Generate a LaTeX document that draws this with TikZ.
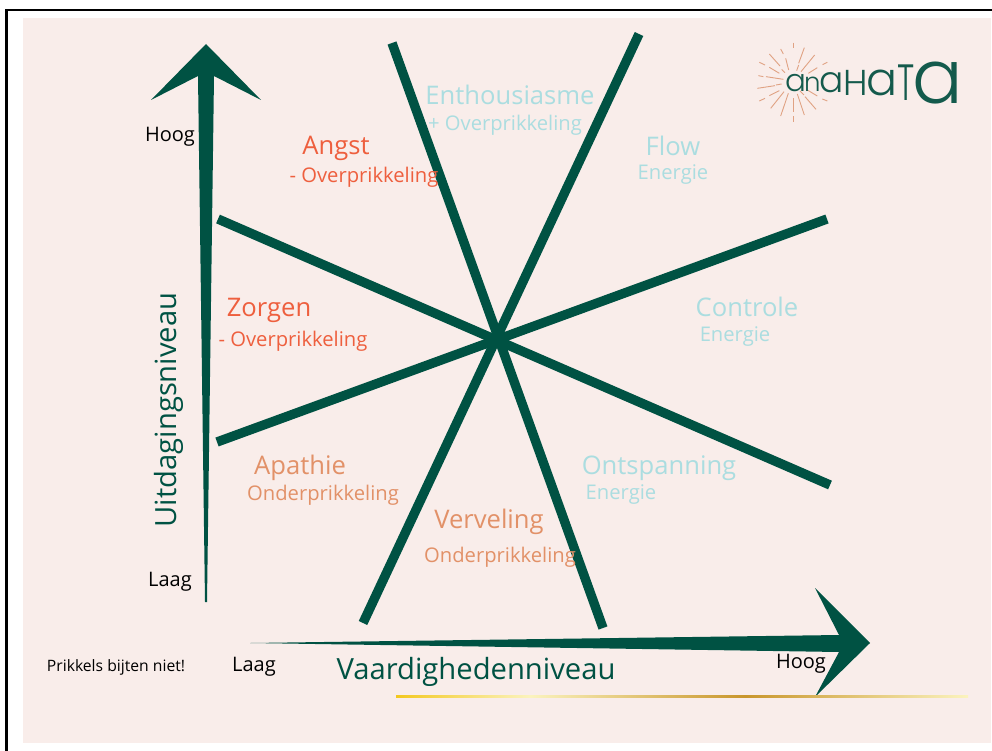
\documentclass[tikz,border=0pt]{standalone}
\usepackage{fontspec}
\setmainfont{Open Sans}
\newfontfamily\logofont{Poppins Light}
\tikzset{
  x=1pt,y=-1pt,
  axisfill/.style={fill=dgreen,draw=none},
  spoke/.style={draw=dgreen,line width=9.4pt},
  big/.style={font=\fontsize{25.6}{28}\selectfont,inner sep=0pt,anchor=base},
  small/.style={font=\fontsize{20.2}{23}\selectfont,inner sep=0pt,anchor=base},
  note/.style={font=\fontsize{20}{23}\selectfont,inner sep=0pt,anchor=base,text=black},
  axlabel/.style={font=\fontsize{29.2}{32}\selectfont,inner sep=0pt,anchor=base,text=dgreen},
  ray/.style={draw=rayc,line width=0.9pt},
  logo/.style={inner sep=0pt,anchor=base west,text=logoc},
}
\definecolor{dgreen}{HTML}{005243}
\definecolor{logoc}{HTML}{145A4C}
\definecolor{bgp}{HTML}{F9EDEA}
\definecolor{red1}{HTML}{EE5F3E}
\definecolor{org1}{HTML}{E29168}
\definecolor{blu1}{HTML}{ABDDE0}
\definecolor{rayc}{HTML}{E0A283}
\definecolor{gold1}{HTML}{F3C81F}
\definecolor{gold2}{HTML}{FBF3BE}
\definecolor{gold3}{HTML}{C9962C}
\begin{document}
\begin{tikzpicture}
\useasboundingbox (0,0) rectangle (992,751);
\fill[white] (0,0) rectangle (992,751);
\fill[bgp] (23,18) rectangle (991,743);
\draw[black,line width=2.5pt] (6.5,751) -- (6.5,10) -- (992,10);
% spokes
\coordinate (a1) at (392,43); \coordinate (a2) at (603,628);
\coordinate (b1) at (639,34); \coordinate (b2) at (363,623);
\coordinate (c1) at (827,219); \coordinate (c2) at (217,442);
\coordinate (d1) at (218,219); \coordinate (d2) at (830,485);
\draw[spoke] (a1) -- (a2);
\draw[spoke] (b1) -- (b2);
\draw[spoke] (c1) -- (c2);
\draw[spoke] (d1) -- (d2);
% axes
\fill[axisfill] (205,602) -- (198,76) -- (151,100) -- (206,44) -- (261,100) -- (214,76) -- (207,602) -- cycle;
\fill[axisfill] (250,643) -- (839,635) -- (815,588) -- (870,643) -- (815,697) -- (839,652) -- cycle;
% gold line
\shade[left color=gold1,right color=gold2] (396,695) rectangle (530,697.5);
\shade[left color=gold2,right color=gold3] (530,695) rectangle (745,697.5);
\shade[left color=gold3,right color=gold2] (745,695) rectangle (968,697.5);
% labels
\node[big,text=red1] (angst) at (336,155) {Angst};
\node[small,text=red1] (angst2) at (364,183) {- Overprikkeling};
\node[big,text=blu1] (enth) at (510,105) {Enthousiasme};
\node[small,text=blu1] (enth2) at (505,131) {+ Overprikkeling};
\node[big,text=blu1] (flow) at (673,156) {Flow};
\node[small,text=blu1] (flow2) at (673,180) {Energie};
\node[big,text=blu1] (contr) at (747,316) {Controle};
\node[small,text=blu1] (contr2) at (735,341) {Energie};
\node[big,text=red1] (zorg) at (269,316) {Zorgen};
\node[small,text=red1] (zorg2) at (293,346) {- Overprikkeling};
\node[big,text=org1] (apa) at (300,474) {Apathie};
\node[small,text=org1] (apa2) at (323,500) {Onderprikkeling};
\node[big,text=org1] (verv) at (489,528) {Verveling};
\node[small,text=org1] (verv2) at (500,562) {Onderprikkeling};
\node[big,text=blu1] (ont) at (659,474) {Ontspanning};
\node[small,text=blu1] (ont2) at (621,499) {Energie};
\node[note] (hoog1) at (170,142) {Hoog};
\node[note] (laag1) at (170,586) {Laag};
\node[note] (laag2) at (254,671) {Laag};
\node[note] (hoog2) at (801,668) {Hoog};
\node[font=\fontsize{15.7}{18}\selectfont,inner sep=0pt,anchor=base,text=black] (pb) at (116,671) {Prikkels bijten niet!};
\node[axlabel] (vn) at (476,679) {Vaardighedenniveau};
\node[axlabel,rotate=90] (un) at (176,410) {Uitdagingsniveau};
% logo rays
\begin{scope}[shift={(740,30)},x=0.3333pt,y=-0.3333pt]
\foreach \xa/\ya/\xb/\yb in {
 160/38/160/55, 122/57/130/72, 137/85/146/120, 193/53/176/100, 176/105/170/122,
 88/72/120/108, 125/118/135/128, 224/75/183/125, 58/97/75/105, 88/112/118/130,
 262/97/248/104, 232/113/205/130, 55/137/70/140, 78/140/130/148, 52/175/105/167,
 108/165/125/162, 58/213/75/205, 88/197/118/182, 262/213/247/207, 232/198/202/180,
 92/235/132/185, 228/238/195/200, 192/195/180/183, 122/258/145/190, 193/255/172/192,
 160/275/160/257, 160/245/160/205}{
  \draw[ray] (\xa,\ya) -- (\xb,\yb);
}
\end{scope}
\node[logo,font=\logofont\fontsize{31}{31}\selectfont] (l1) at (785,92) {a};
\node[logo,font=\logofont\fontsize{26}{26}\selectfont] (l2) at (804,92) {n};
\node[logo,font=\logofont\fontsize{36}{36}\selectfont] (l3) at (819,93) {a};
\node[logo,font=\logofont\fontsize{36}{36}\selectfont] (l4) at (843,96) {H};
\node[logo,font=\logofont\fontsize{46}{46}\selectfont] (l5) at (866,96) {a};
\node[logo,font=\logofont\fontsize{51}{51}\selectfont,xscale=.65] (l6) at (897,101) {T};
\node[logo,font=\logofont\fontsize{75}{75}\selectfont] (l7) at (912,104) {a};
\end{tikzpicture}
\end{document}
